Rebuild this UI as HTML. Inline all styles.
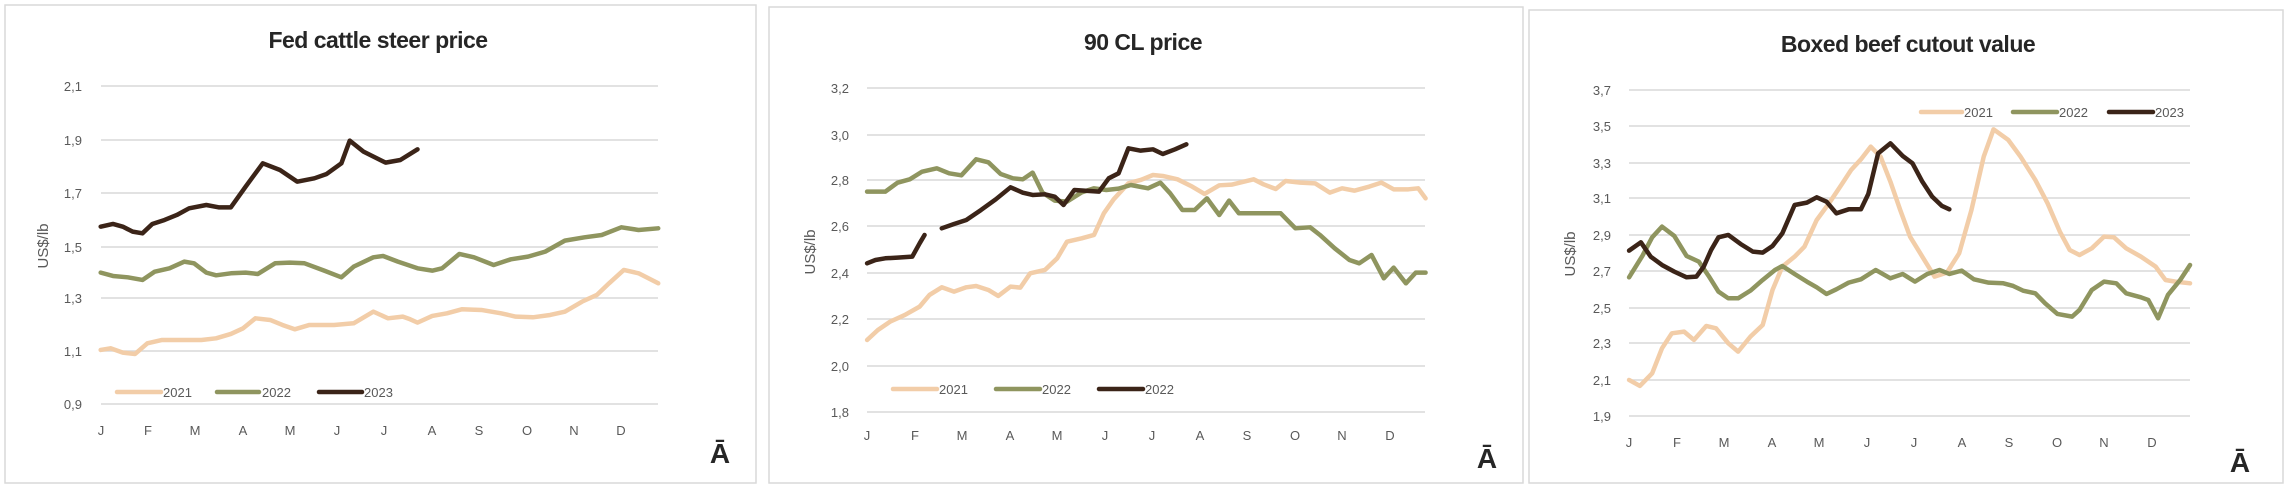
<!DOCTYPE html>
<html><head><meta charset="utf-8"><style>
html,body{margin:0;padding:0;background:#fff;width:2292px;height:504px;overflow:hidden}
svg text{font-family:"Liberation Sans",sans-serif}
.t{font-size:23px;font-weight:bold;fill:#262626;text-anchor:middle;letter-spacing:-0.5px}
.y{font-size:13px;fill:#595959;text-anchor:end}
.m{font-size:13px;fill:#595959;text-anchor:middle}
.l{font-size:13px;fill:#595959}
.yl{font-size:15px;fill:#595959;text-anchor:middle}
.a{font-size:28px;font-weight:bold;fill:#262626;text-anchor:middle}
.g{stroke:#d9d9d9;stroke-width:1.5}
.s{fill:none;stroke-width:4.5;stroke-linejoin:round;stroke-linecap:round}
.c1{stroke:#f2cda8}.c2{stroke:#8f955f}.c3{stroke:#3b2418}
</style></head><body>
<svg width="2292" height="504" viewBox="0 0 2292 504" xmlns="http://www.w3.org/2000/svg">
<!-- borders -->
<rect x="5" y="5" width="751" height="478" fill="none" stroke="#d9d9d9" stroke-width="1.5"/>
<rect x="769" y="7" width="754" height="476" fill="none" stroke="#d9d9d9" stroke-width="1.5"/>
<rect x="1529" y="10" width="754" height="473" fill="none" stroke="#d9d9d9" stroke-width="1.5"/>

<!-- PANEL 1 -->
<text class="t" x="378" y="48">Fed cattle steer price</text>
<g class="g">
<line x1="101" x2="658" y1="86" y2="86"/><line x1="101" x2="658" y1="140" y2="140"/><line x1="101" x2="658" y1="193" y2="193"/><line x1="101" x2="658" y1="247" y2="247"/><line x1="101" x2="658" y1="298" y2="298"/><line x1="101" x2="658" y1="351" y2="351"/><line x1="101" x2="658" y1="404" y2="404"/>
</g>
<g><text class="y" x="82" y="91">2,1</text><text class="y" x="82" y="145">1,9</text><text class="y" x="82" y="198">1,7</text><text class="y" x="82" y="252">1,5</text><text class="y" x="82" y="303">1,3</text><text class="y" x="82" y="356">1,1</text><text class="y" x="82" y="409">0,9</text></g>
<text class="yl" transform="translate(48,246) rotate(-90)">US$/lb</text>
<g><text class="m" x="101" y="435">J</text><text class="m" x="148" y="435">F</text><text class="m" x="195" y="435">M</text><text class="m" x="243" y="435">A</text><text class="m" x="290" y="435">M</text><text class="m" x="337" y="435">J</text><text class="m" x="384" y="435">J</text><text class="m" x="432" y="435">A</text><text class="m" x="479" y="435">S</text><text class="m" x="527" y="435">O</text><text class="m" x="574" y="435">N</text><text class="m" x="621" y="435">D</text></g>
<text class="a" x="720" y="463">Ā</text>
<line class="s c1" x1="117" x2="161" y1="392" y2="392"/><text class="l" x="163" y="397">2021</text>
<line class="s c2" x1="217" x2="259" y1="392" y2="392"/><text class="l" x="262" y="397">2022</text>
<line class="s c3" x1="319" x2="362" y1="392" y2="392"/><text class="l" x="364" y="397">2023</text>
<g transform="translate(0,0) scale(0.4912,0.3333)">
<polyline class="s c1" vector-effect="non-scaling-stroke" points="205,1050 225,1045 250,1058 275,1062 300,1030 330,1020 360,1020 410,1020 440,1015 470,1002 495,985 520,955 550,960 575,975 600,988 630,975 680,975 720,970 760,935 790,955 820,950 835,958 850,968 880,948 910,940 940,928 980,930 1020,940 1050,950 1085,952 1120,945 1150,935 1185,905 1215,885 1240,850 1270,810 1300,820 1340,850"/>
<polyline class="s c2" vector-effect="non-scaling-stroke" points="205,818 230,828 260,832 290,840 315,815 345,805 375,785 395,790 420,818 440,826 470,820 500,818 525,822 560,790 590,788 620,790 660,812 695,832 720,800 760,772 780,768 810,785 850,805 880,812 900,805 935,762 965,772 1005,795 1040,778 1075,770 1110,755 1150,722 1190,712 1225,705 1265,682 1300,690 1340,685"/>
<polyline class="s c3" vector-effect="non-scaling-stroke" points="205,680 230,672 250,680 270,695 290,700 310,672 335,660 360,645 385,625 420,615 445,622 470,622 500,560 535,490 570,510 605,545 640,535 665,522 695,490 712,422 740,455 785,488 815,480 850,448"/>
</g>

<!-- PANEL 2 -->
<text class="t" x="1143" y="50">90 CL price</text>
<g class="g">
<line x1="867" x2="1425" y1="88" y2="88"/><line x1="867" x2="1425" y1="135" y2="135"/><line x1="867" x2="1425" y1="180" y2="180"/><line x1="867" x2="1425" y1="226" y2="226"/><line x1="867" x2="1425" y1="273" y2="273"/><line x1="867" x2="1425" y1="319" y2="319"/><line x1="867" x2="1425" y1="366" y2="366"/><line x1="867" x2="1425" y1="412" y2="412"/>
</g>
<g><text class="y" x="849" y="93">3,2</text><text class="y" x="849" y="140">3,0</text><text class="y" x="849" y="185">2,8</text><text class="y" x="849" y="231">2,6</text><text class="y" x="849" y="278">2,4</text><text class="y" x="849" y="324">2,2</text><text class="y" x="849" y="371">2,0</text><text class="y" x="849" y="417">1,8</text></g>
<text class="yl" transform="translate(815,252) rotate(-90)">US$/lb</text>
<g><text class="m" x="867" y="440">J</text><text class="m" x="915" y="440">F</text><text class="m" x="962" y="440">M</text><text class="m" x="1010" y="440">A</text><text class="m" x="1057" y="440">M</text><text class="m" x="1105" y="440">J</text><text class="m" x="1152" y="440">J</text><text class="m" x="1200" y="440">A</text><text class="m" x="1247" y="440">S</text><text class="m" x="1295" y="440">O</text><text class="m" x="1342" y="440">N</text><text class="m" x="1390" y="440">D</text></g>
<text class="a" x="1487" y="468">Ā</text>
<line class="s c1" x1="893" x2="937" y1="389" y2="389"/><text class="l" x="939" y="394">2021</text>
<line class="s c2" x1="996" x2="1040" y1="389" y2="389"/><text class="l" x="1042" y="394">2022</text>
<line class="s c3" x1="1099" x2="1143" y1="389" y2="389"/><text class="l" x="1145" y="394">2022</text>
<g transform="translate(760,0) scale(0.4912,0.3333)">
<polyline class="s c1" vector-effect="non-scaling-stroke" points="218,1020 240,990 265,965 295,945 325,920 345,885 370,862 395,875 420,862 440,858 465,870 485,888 510,860 530,863 550,820 580,810 605,775 625,725 655,715 680,705 700,640 720,598 750,550 775,540 800,525 820,528 850,538 880,560 905,582 935,556 960,554 985,545 1005,538 1025,553 1050,567 1070,543 1100,548 1130,550 1160,578 1185,565 1210,572 1240,560 1265,548 1290,568 1320,568 1340,565 1355,595"/>
<polyline class="s c2" vector-effect="non-scaling-stroke" points="218,575 255,575 280,548 305,538 330,515 360,505 385,520 410,526 440,478 465,487 490,522 515,535 535,538 555,518 575,578 600,602 625,605 655,577 680,565 705,570 730,566 755,555 790,565 815,548 835,580 860,630 885,630 910,595 935,645 955,602 975,640 1000,640 1060,640 1090,685 1120,682 1140,705 1170,745 1200,780 1220,790 1245,765 1270,835 1290,803 1315,850 1335,818 1355,818"/>
<polyline class="s c3" vector-effect="non-scaling-stroke" points="218,790 235,780 255,775 280,773 310,770 325,730 335,705"/>
<polyline class="s c3" vector-effect="non-scaling-stroke" points="370,685 395,672 420,660 450,630 480,598 510,562 535,578 555,585 580,583 600,590 618,615 640,570 690,575 710,535 730,520 750,445 775,452 800,448 820,462 845,448 868,433"/>
</g>

<!-- PANEL 3 -->
<text class="t" x="1908" y="52">Boxed beef cutout value</text>
<g class="g">
<line x1="1629" x2="2190" y1="90" y2="90"/><line x1="1629" x2="2190" y1="126" y2="126"/><line x1="1629" x2="2190" y1="163" y2="163"/><line x1="1629" x2="2190" y1="198" y2="198"/><line x1="1629" x2="2190" y1="235" y2="235"/><line x1="1629" x2="2190" y1="271" y2="271"/><line x1="1629" x2="2190" y1="308" y2="308"/><line x1="1629" x2="2190" y1="343" y2="343"/><line x1="1629" x2="2190" y1="380" y2="380"/><line x1="1629" x2="2190" y1="416" y2="416"/>
</g>
<g><text class="y" x="1611" y="95">3,7</text><text class="y" x="1611" y="131">3,5</text><text class="y" x="1611" y="168">3,3</text><text class="y" x="1611" y="203">3,1</text><text class="y" x="1611" y="240">2,9</text><text class="y" x="1611" y="276">2,7</text><text class="y" x="1611" y="313">2,5</text><text class="y" x="1611" y="348">2,3</text><text class="y" x="1611" y="385">2,1</text><text class="y" x="1611" y="421">1,9</text></g>
<text class="yl" transform="translate(1575,254) rotate(-90)">US$/lb</text>
<g><text class="m" x="1629" y="447">J</text><text class="m" x="1677" y="447">F</text><text class="m" x="1724" y="447">M</text><text class="m" x="1772" y="447">A</text><text class="m" x="1819" y="447">M</text><text class="m" x="1867" y="447">J</text><text class="m" x="1914" y="447">J</text><text class="m" x="1962" y="447">A</text><text class="m" x="2009" y="447">S</text><text class="m" x="2057" y="447">O</text><text class="m" x="2104" y="447">N</text><text class="m" x="2152" y="447">D</text></g>
<text class="a" x="2240" y="472">Ā</text>
<line class="s c1" x1="1921" x2="1962" y1="112" y2="112"/><text class="l" x="1964" y="117">2021</text>
<line class="s c2" x1="2013" x2="2057" y1="112" y2="112"/><text class="l" x="2059" y="117">2022</text>
<line class="s c3" x1="2109" x2="2153" y1="112" y2="112"/><text class="l" x="2155" y="117">2023</text>
<g transform="translate(1522,0) scale(0.4912,0.3333)">
<polyline class="s c1" vector-effect="non-scaling-stroke" points="218,1140 240,1158 265,1120 285,1045 305,1000 330,995 350,1020 375,978 395,985 420,1030 440,1055 465,1010 490,975 510,870 530,800 555,770 575,740 600,660 625,610 650,555 670,510 690,478 710,440 730,470 750,545 770,630 790,710 815,770 840,830 865,818 890,760 915,630 940,470 960,388 990,420 1015,470 1045,540 1070,610 1095,695 1115,750 1135,765 1160,745 1185,710 1205,712 1230,745 1260,770 1290,800 1310,840 1330,845 1360,850"/>
<polyline class="s c2" vector-effect="non-scaling-stroke" points="218,832 245,768 265,712 285,680 310,708 335,768 360,785 380,828 400,875 420,895 440,895 465,872 490,840 515,810 530,798 555,822 580,845 600,862 620,882 640,868 665,848 690,838 720,810 750,835 775,822 800,845 825,822 850,810 870,822 895,812 920,838 950,848 980,850 1000,858 1020,872 1045,880 1065,910 1090,942 1120,950 1135,930 1160,870 1185,845 1210,850 1230,880 1260,892 1275,900 1295,955 1315,885 1340,840 1360,795"/>
<polyline class="s c3" vector-effect="non-scaling-stroke" points="218,752 242,727 262,770 285,795 310,815 335,832 355,830 370,800 385,750 400,712 420,705 445,732 470,755 490,758 510,738 530,700 555,615 580,608 600,592 620,605 640,640 665,628 690,628 705,582 725,460 750,430 775,468 795,490 815,545 835,590 855,618 870,628"/>
</g>
</svg>
</body></html>
